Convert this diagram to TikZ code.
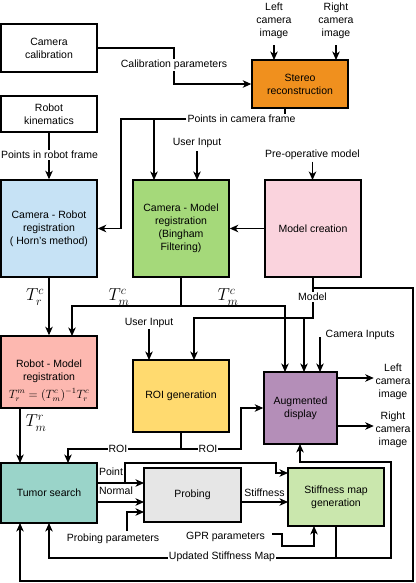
\documentclass[tikz,border=0pt]{standalone}
\usepackage[no-math]{fontspec}
\setmainfont{Liberation Sans}
\usetikzlibrary{arrows.meta,backgrounds,calc}
\definecolor{cStereo}{HTML}{F0901E}
\definecolor{cCR}{HTML}{C6E2F5}
\definecolor{cCM}{HTML}{A5D97A}
\definecolor{cMC}{HTML}{FAD3DD}
\definecolor{cRM}{HTML}{FDB8B0}
\definecolor{cROI}{HTML}{FFDA6F}
\definecolor{cAug}{HTML}{B48EB8}
\definecolor{cTS}{HTML}{9AD4C9}
\definecolor{cPr}{HTML}{E6E6E6}
\definecolor{cSM}{HTML}{CAE7AD}
\begin{document}
\begin{tikzpicture}[x=1pt,y=-1pt,
  every node/.style={font=\fontsize{10.5}{13}\selectfont, inner sep=1.5pt},
  box/.style={draw, line width=1.5pt, align=center, minimum width=96pt, inner sep=2pt},
  lbl/.style={fill=white, inner sep=1pt, align=center},
  conn/.style={line width=1.1pt},
  arr/.style={conn, -{Stealth[length=8.5pt,width=7.5pt,inset=2.5pt]}},
  tlab/.style={font=\fontsize{17.28}{20}\selectfont, inner sep=0pt}]
\useasboundingbox (0,0) rectangle (415,583);

% boxes
\node[box, fill=white, minimum height=48pt] (calib) at (49,48) {Camera\\calibration};
\node[box, fill=white, minimum height=36pt] (kin) at (49,114) {Robot\\kinematics};
\node[box, fill=cStereo, minimum height=48pt] (stereo) at (300,84) {Stereo\\reconstruction};
\node[box, fill=cCR, minimum height=97pt] (camrob) at (49,228.5) {Camera - Robot\\registration\\( Horn's method)};
\node[box, fill=cCM, minimum height=97pt] (cammod) at (181,228.5) {Camera - Model\\registration\\(Bingham\\Filtering)};
\node[box, fill=cMC, minimum height=97pt] (modcr) at (313,228.5) {Model creation};
\node[box, fill=cRM, minimum height=72pt] (robmod) at (49,372) {};
\node[align=center] (rmtext) at (49,371) {Robot - Model\\registration};
\node[inner sep=0pt] (rmeq) at (49,395) {\fontsize{12}{15}\selectfont $T_r^m=(T_m^c)^{-1}T_r^c$};
\node[box, fill=cROI, minimum height=72pt] (roi) at (181,396) {ROI generation};
\node[box, fill=cAug, minimum width=73pt, minimum height=72pt] (aug) at (300.5,408) {Augmented\\display};
\node[box, fill=cTS, minimum height=60pt] (tumor) at (49,493) {Tumor search};
\node[box, fill=cPr, minimum width=97pt, minimum height=54pt] (probe) at (192.5,495) {Probing};
\node[box, fill=cSM, minimum height=58pt] (stiff) at (336,497) {Stiffness map\\generation};

% labels
\node[lbl] (calpar) at (174,65) {Calibration parameters};
\node[align=center, inner sep=0pt] (leftin) at (274,21) {Left\\camera\\image};
\node[align=center, inner sep=0pt] (rightin) at (336,21) {Right\\camera\\image};
\node[lbl] (ptscam) at (241.5,119) {Points in camera frame};
\node[lbl] (ptsrob) at (49.5,155) {Points in robot frame};
\node (user1) at (197,143) {User Input};
\node (preop) at (312.5,155) {Pre-operative model};
\node[lbl] (model) at (312.5,297) {Model};
\node (user2) at (149,323) {User Input};
\node[anchor=west] (camin) at (324,335) {Camera Inputs};
\node[align=center, inner sep=0pt] (lcam) at (393,382) {Left\\camera\\image};
\node[align=center, inner sep=0pt] (rcam) at (393,430) {Right\\camera\\image};
\node[lbl] (roi1) at (118,449) {ROI};
\node[lbl] (roi2) at (208,449) {ROI};
\node (point) at (111,472) {Point};
\node (normal) at (116,491) {Normal};
\node (probpar) at (113,539) {Probing parameters};
\node (stifflab) at (264.5,493) {Stiffness};
\node (gpr) at (225.5,537) {GPR parameters};
\node[lbl] (upd) at (222,557) {Updated Stiffness Map};
\node[tlab] (trc) at (35,297) {$T_r^c$};
\node[tlab] (tmc1) at (119,297) {$T_m^c$};
\node[tlab] (tmc2) at (228,297) {$T_m^c$};
\node[tlab] (tmr) at (36,423) {$T_m^r$};

\begin{scope}[on background layer]
\draw[arr] (calib.east) -- (174,48) |- (stereo.west);
\draw[arr] ([yshift=-6pt]leftin.south) -- (274,60);
\draw[arr] ([yshift=-6pt]rightin.south) -- (336,60);
\draw[conn] ([xshift=-15pt]stereo.south) -- (285,119);
\draw[arr] (ptscam.west) -- (121,119) |- (camrob.east);
\draw[arr] (154,119) -- (154,180);
\draw[arr] ([yshift=-2pt]user1.south) -- (197,180);
\draw[arr] (preop.south) -- (312.5,180);
\draw[arr] (modcr.west) -- (cammod.east);
\draw[arr] (kin.south) -- (camrob.north);
\draw[arr] (cammod.south) |- (72,306) -- (72,336);
\draw[arr] (cammod.south) |- (285,306) -- (285,372);
\draw[arr] (camrob.south) -- (robmod.north);
\draw[arr] (20,408) -- (20,463);
\draw[arr] (modcr.south) -- (313,288) -- (413,288) -- (413,581) -- (20,581) -- (20,523);
\draw[arr] (313,288) -- (313,318) -| (194,360);
\draw[arr] (304,318) -- (304,372);
\draw[arr] (user2.south) -- (149,360);
\draw[arr] (320,337) -- (320,372);
\draw[arr] ([yshift=30pt]aug.east) -- ++(36,0);
\draw[arr] ([yshift=-18pt]aug.east) -- ++(36,0);
\draw[arr] (roi.south) |- (68,449) -- (68,463);
\draw[arr] (roi.south) |- (241,449) |- (aug.west);
\draw[arr] (97,483) -- (144,483);
\draw[arr] (125,483) |- (276,463) -- (276,473) -- (288,473);
\draw[arr] (97,502) -- (144,502);
\draw[arr] (127,531) |- (144,512);
\draw[arr] (241,502) -- (288,502);
\draw[arr] (272,534) -- (282,534) |- (314,546) -- (314,526);
\draw[arr] (stiff.south) |- (49,558) -- (49,523);
\draw[arr] (stiff.south) |- (391,558) |- (300,462) -- (300,444);
\end{scope}
\end{tikzpicture}
\end{document}
